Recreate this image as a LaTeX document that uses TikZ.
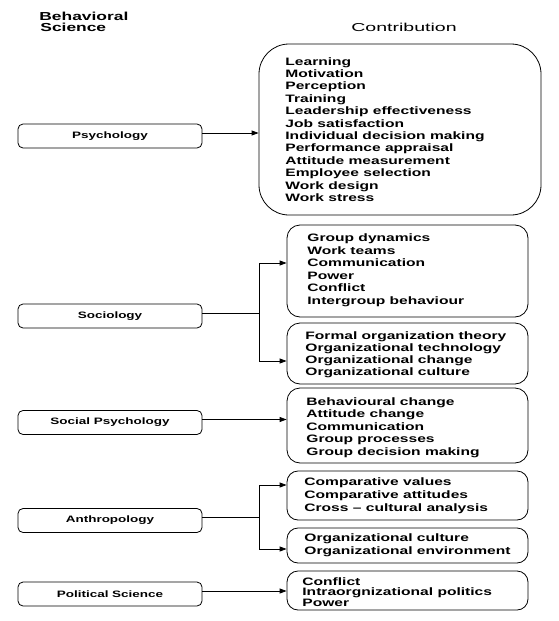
\documentclass[tikz,border=0pt]{standalone}
\usepackage{fontspec}
\setmainfont{Liberation Sans}
\usepackage{graphicx}
\usetikzlibrary{arrows.meta}
\newcommand{\lab}[1]{{\fontsize{9.3}{11}\selectfont\bfseries\scalebox{1.45}[1]{#1}}}
\newcommand{\hdr}[1]{{\fontsize{11.6}{12}\selectfont\bfseries\scalebox{1.5}[1]{#1}}}
\newcommand{\ilist}[2]{{\fontsize{10.75}{#1}\selectfont\bfseries\scalebox{1.45}[1]{\begin{tabular}[t]{@{}l@{}}#2\end{tabular}}}}
\begin{document}
\begin{tikzpicture}[x=1pt,y=-1pt,line width=0.8pt,
  lbox/.style={draw,rounded corners=5pt,minimum width=184pt,minimum height=24pt,inner sep=0pt},
  rbox/.style={draw,rounded corners=13pt,minimum width=241pt,inner sep=0pt},
  txt/.style={inner sep=0pt,anchor=base west},
  arr/.style={-{Triangle[length=7pt,width=5pt]}}]
\useasboundingbox (0,0) rectangle (559,621);
% headers
\node[txt] (h1) at (39,20.5) {\hdr{Behavioral}};
\node[txt] (h2) at (40,31.5) {\hdr{Science}};
\node[inner sep=0pt,anchor=base] (h3) at (404,31.5) {{\fontsize{11.5}{12}\selectfont\scalebox{1.7}[1]{Contribution}}};
% left boxes
\node[lbox] (psy) at (110,136) {\lab{Psychology}};
\node[lbox] (soc) at (110,316) {\lab{Sociology}};
\node[lbox] (sp) at (110,422.5) {\lab{Social Psychology}};
\node[lbox] (ant) at (110,520.5) {\lab{Anthropology}};
\node[lbox] (pol) at (110,594) {\lab{Political Science}};
% right boxes
\node[rbox,minimum width=282pt,minimum height=171pt,rounded corners=30pt] (psyc) at (400,129.5) {};
\node[rbox,minimum height=92pt] (soc1) at (407.5,271) {};
\node[rbox,minimum height=61pt] (soc2) at (407.5,353.5) {};
\node[rbox,minimum height=75pt] (spc) at (407.5,425.5) {};
\node[rbox,minimum height=49pt,rounded corners=11pt] (ant1) at (407.5,495.5) {};
\node[rbox,minimum height=35pt,rounded corners=11pt] (ant2) at (407.5,545.5) {};
\node[rbox,minimum height=39pt,rounded corners=11pt] (polc) at (407.5,590.5) {};
% texts
\node[txt] (psyt) at (285,65) {\ilist{12.4}{Learning\\Motivation\\Perception\\Training\\Leadership effectiveness\\Job satisfaction\\Individual decision making\\Performance appraisal\\Attitude measurement\\Employee selection\\Work design\\Work stress}};
\node[txt] (soc1t) at (307,241.5) {\ilist{12.5}{Group dynamics\\Work teams\\Communication\\Power\\Conflict\\Intergroup behaviour}};
\node[txt] (soc2t) at (305,339) {\ilist{12.3}{Formal organization theory\\Organizational technology\\Organizational change\\Organizational culture}};
\node[txt] (spt) at (306,405) {\ilist{12.5}{Behavioural change\\Attitude change\\Communication\\Group processes\\Group decision making}};
\node[txt] (ant1t) at (304,485) {\ilist{13}{Comparative values\\Comparative attitudes\\Cross – cultural analysis}};
\node[txt] (ant2t) at (304,541) {\ilist{13}{Organizational culture\\Organizational environment}};
\node[txt] (polt) at (302,585) {\ilist{10}{Conflict\\Intraorgnizational politics\\Power}};
% connectors
\coordinate (pa) at ([yshift=3pt]psy.east);
\draw[arr] (pa) -- (pa -| psyc.west);
\coordinate (sa) at ([yshift=3pt]soc.east);
\coordinate (sj) at (259,313);
\draw (sa) -- (sj);
\draw[arr] (sj) |- (soc1.west |- 0,263);
\draw[arr] (sj) |- (soc2.west |- 0,361);
\coordinate (spa) at ([yshift=3pt]sp.east);
\draw[arr] (spa) -- (spa -| spc.west);
\coordinate (aa) at ([yshift=3.5pt]ant.east);
\coordinate (aj) at (259,517);
\draw (aa) -- (aj);
\draw[arr] (aj) |- (ant1.west |- 0,485);
\draw[arr] (aj) |- (ant2.west |- 0,549);
\coordinate (pla) at ([yshift=3pt]pol.east);
\draw[arr] (pla) -- (pla -| polc.west);
\end{tikzpicture}
\end{document}
